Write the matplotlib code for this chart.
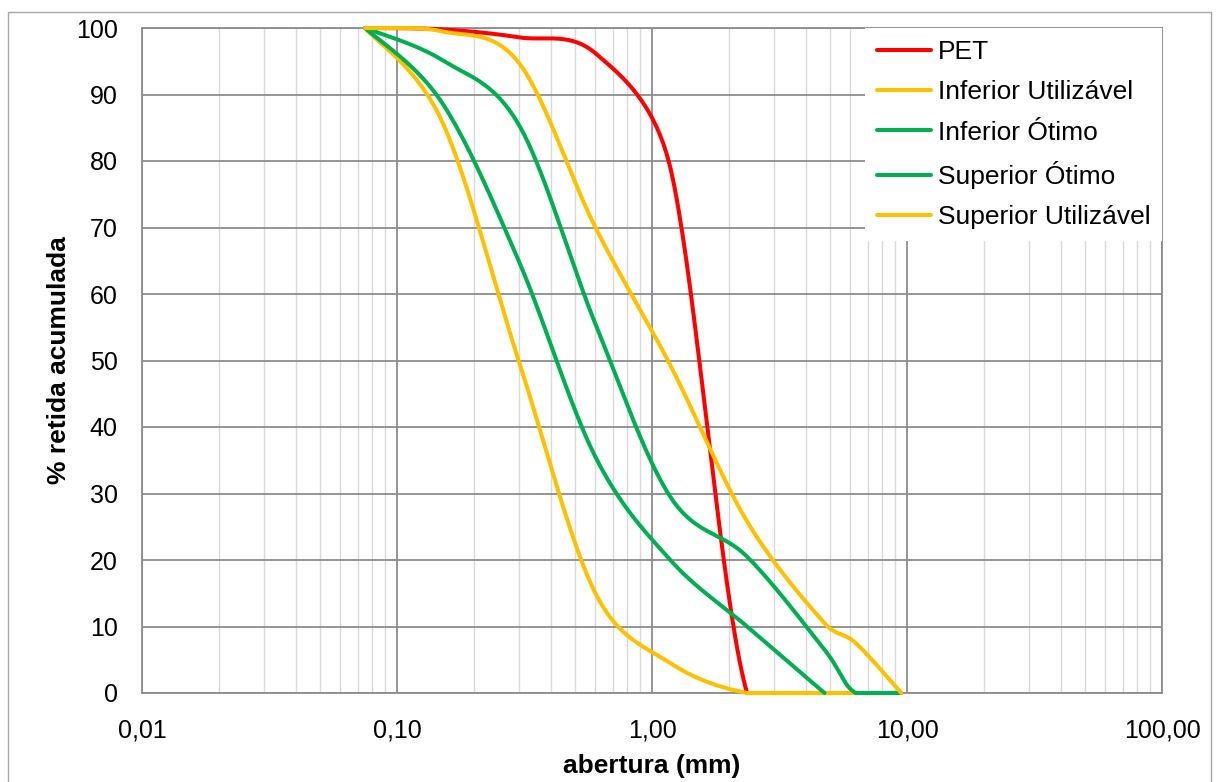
import numpy as np
import matplotlib
matplotlib.use('Agg')
import matplotlib.pyplot as plt

plt.rcParams['font.family'] = ['Liberation Sans', 'DejaVu Sans']

# peneiras (mm) e % retida acumulada
peneiras = [0.075, 0.15, 0.3, 0.6, 1.18, 2.36, 4.75, 6.3, 9.5]
pet = [100, 99.8, 98.6, 96.2, 79, 0, 0]
inf_util = [100, 86, 50, 15, 4.5, 0, 0, 0]
inf_otimo = [100, 88.8, 65, 35.5, 20, 10, 0]
sup_otimo = [100, 95.2, 85.5, 55.5, 29.5, 20.5, 6.5, 0, 0]
sup_util = [100, 99.5, 94.8, 70, 49.3, 25.8, 10.5, 7.5, 0]

series = [
    ('PET', pet, '#FF0000'),
    ('Inferior Utilizável', inf_util, '#FFC000'),
    ('Inferior Ótimo', inf_otimo, '#00B050'),
    ('Superior Ótimo', sup_otimo, '#00B050'),
    ('Superior Utilizável', sup_util, '#FFC000'),
]

xticks = [0.01, 0.1, 1, 10, 100]
xtick_labels = ['0,01', '0,10', '1,00', '10,00', '100,00']


def suave(x, y, n=40, k=0.5):
    # linha suavizada tipo Excel: bezier com tangentes limitadas (em pixels)
    sx, sy = 255.0, 6.65
    P = np.column_stack([np.log10(x) * sx, np.asarray(y, float) * sy])
    P = np.vstack([P[0], P, P[-1]])
    t = np.linspace(0, 1, n)[:, None]
    pts = []
    for i in range(1, len(P) - 2):
        p0, p1, p2, p3 = P[i - 1], P[i], P[i + 1], P[i + 2]
        seg = np.hypot(*(p2 - p1))
        d1 = (p2 - p0) / 6
        d2 = (p3 - p1) / 6
        for d in (d1, d2):
            L = np.hypot(*d)
            if L > k * seg:
                d *= k * seg / L
        c1 = p1 + d1
        c2 = p2 - d2
        pts.append((1 - t)**3 * p1 + 3 * (1 - t)**2 * t * c1
                   + 3 * (1 - t) * t**2 * c2 + t**3 * p2)
    pts = np.vstack(pts)
    return 10**(pts[:, 0] / sx), np.clip(pts[:, 1] / sy, 0, 100)


fig = plt.figure(figsize=(12.17, 7.82), dpi=100)
ax = fig.add_axes([142/1217, 1 - 693/782, 1020/1217, 665/782])

for nome, vals, cor in series:
    xs, ys = suave(peneiras[:len(vals)], vals)
    ax.plot(xs, ys, color=cor, lw=2.9, label=nome, clip_on=False,
            solid_capstyle='round', zorder=3)

ax.set_xscale('log')
ax.set_xlim(0.01, 100)
ax.set_ylim(0, 100)
ax.set_yticks(range(0, 101, 10))
ax.set_xticks(xticks)
ax.set_xticklabels(xtick_labels)
ax.set_axisbelow(True)
ax.grid(which='major', color='#8c8c8c', lw=1.3)
ax.grid(which='minor', axis='x', color='#d9d9d9', lw=1)
ax.tick_params(which='both', length=0, labelsize=18)
ax.tick_params(axis='x', pad=18.5)
ax.tick_params(axis='y', pad=17.5)
for s in ax.spines.values():
    s.set_color('#8c8c8c')
    s.set_linewidth(1.3)

ax.set_xlabel('abertura (mm)', fontsize=19, fontweight='bold')
ax.xaxis.set_label_coords(0.5, -0.092)
ax.set_ylabel('% retida acumulada', fontsize=19, fontweight='bold')
ax.yaxis.set_label_coords(-0.07, 0.5)

leg = ax.legend(loc='upper right', bbox_to_anchor=(1, 1), borderaxespad=0,
                facecolor='white', edgecolor='none', framealpha=1, fancybox=False,
                fontsize=19, handlelength=2.05, handletextpad=0.23,
                labelspacing=0.62, borderpad=0.45)
leg.set_zorder(5)

fig.add_artist(plt.Rectangle((8/1217, -0.01), 1203/1217, 1 - 12/782 + 0.01,
                             transform=fig.transFigure, fill=False,
                             ec='#a6a6a6', lw=1))

fig.savefig('out.png', dpi=100)
